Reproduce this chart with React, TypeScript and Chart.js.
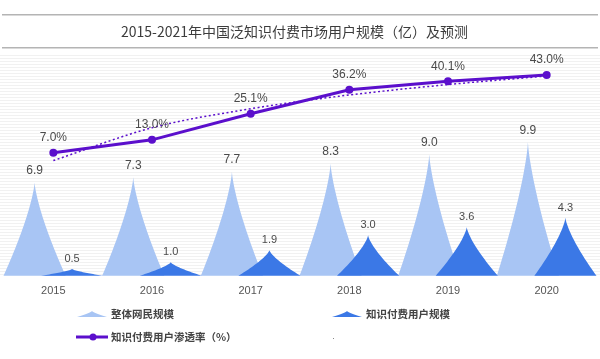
import React, { useEffect, useRef } from 'react';
import { Chart, registerables } from 'chart.js';

Chart.register(...registerables);

const years = ['2015', '2016', '2017', '2018', '2019', '2020'];
const netUsers = [6.9, 7.3, 7.7, 8.3, 9.0, 9.9];
const paidUsers = [0.5, 1.0, 1.9, 3.0, 3.6, 4.3];
const penetration = [7.0, 13.0, 25.1, 36.2, 40.1, 43.0];
const trend = [3.4, 18.6, 27.4, 33.8, 38.6, 42.6];

const titleText = '2015-2021年中国泛知识付费市场用户规模（亿）及预测';
const legendNames = ['整体网民规模', '知识付费用户规模', '知识付费用户渗透率（%）'];

const LIGHT = '#a8c5f4';
const DARK = '#3b78e6';
const PURPLE = '#5b0fcc';
const FONT = "'Liberation Sans', 'Noto Sans CJK SC', sans-serif";
const CJK = "'Noto Sans CJK SC', 'Liberation Sans', sans-serif";

function spike(ctx: CanvasRenderingContext2D, x: number, top: number, base: number, w: number, color: string) {
  const h = base - top;
  const steps = 24;
  const P = 1.35;
  ctx.beginPath();
  ctx.moveTo(x - w / 2, base);
  for (let i = 1; i <= steps; i++) {
    const t = i / steps;
    ctx.lineTo(x - (w / 2) * Math.pow(1 - t, P), base - h * t);
  }
  for (let i = steps - 1; i >= 0; i--) {
    const t = i / steps;
    ctx.lineTo(x + (w / 2) * Math.pow(1 - t, P), base - h * t);
  }
  ctx.closePath();
  ctx.fillStyle = color;
  ctx.fill();
}

const decorPlugin = {
  id: 'decor',
  beforeDraw(chart: any) {
    const ctx = chart.ctx as CanvasRenderingContext2D;
    const { chartArea } = chart;
    ctx.save();
    ctx.fillStyle = '#ffffff';
    ctx.fillRect(0, 0, chart.width, chart.height);
    ctx.fillStyle = '#f1f1f1';
    for (let y = chartArea.top - 5; y < chartArea.bottom; y += 3) {
      ctx.fillRect(0, y, chart.width, 1);
    }
    ctx.fillStyle = '#b4b4b4';
    ctx.fillRect(2, 14, chart.width - 4, 1.5);
    ctx.fillRect(2, 47, chart.width - 4, 1.5);
    ctx.fillStyle = '#3c3c3c';
    ctx.font = `14px ${CJK}`;
    ctx.textAlign = 'left';
    ctx.textBaseline = 'middle';
    ctx.fillText(titleText, 121, 32);
    ctx.restore();
  },
  beforeDatasetsDraw(chart: any) {
    const ctx = chart.ctx as CanvasRenderingContext2D;
    const xScale = chart.scales.x;
    const catW = xScale.width / years.length;
    const w = catW * 0.63;
    ctx.save();
    [0, 1].forEach((di) => {
      const meta = chart.getDatasetMeta(di);
      meta.data.forEach((el: any) => {
        spike(ctx, el.x, el.y, el.base, w, di === 0 ? LIGHT : DARK);
      });
    });
    ctx.restore();
  },
  afterDatasetsDraw(chart: any) {
    const ctx = chart.ctx as CanvasRenderingContext2D;
    ctx.save();
    ctx.textAlign = 'center';
    ctx.textBaseline = 'middle';
    ctx.fillStyle = '#4a4a4a';
    const m0 = chart.getDatasetMeta(0);
    ctx.font = `12px ${FONT}`;
    m0.data.forEach((el: any, i: number) => {
      ctx.fillText(netUsers[i].toFixed(1), el.x, el.y - 12);
    });
    const m1 = chart.getDatasetMeta(1);
    ctx.font = `11px ${FONT}`;
    m1.data.forEach((el: any, i: number) => {
      ctx.fillText(paidUsers[i].toFixed(1), el.x, el.y - 10);
    });
    const m2 = chart.getDatasetMeta(2);
    ctx.font = `12px ${FONT}`;
    m2.data.forEach((el: any, i: number) => {
      ctx.fillText(penetration[i].toFixed(1) + '%', el.x, el.y - 15);
    });
    ctx.restore();
  },
  afterDraw(chart: any) {
    const ctx = chart.ctx as CanvasRenderingContext2D;
    ctx.save();
    spike(ctx, 92, 311, 317, 30, LIGHT);
    spike(ctx, 347, 311, 317, 30, DARK);
    ctx.strokeStyle = PURPLE;
    ctx.lineWidth = 3;
    ctx.beginPath();
    ctx.moveTo(76, 337);
    ctx.lineTo(108, 337);
    ctx.stroke();
    ctx.fillStyle = PURPLE;
    ctx.beginPath();
    ctx.arc(93, 337, 3.5, 0, Math.PI * 2);
    ctx.fill();
    ctx.fillStyle = '#444444';
    ctx.font = `bold 10.5px ${CJK}`;
    ctx.textAlign = 'left';
    ctx.textBaseline = 'middle';
    ctx.fillText(legendNames[0], 111, 314);
    ctx.fillText(legendNames[1], 366, 314);
    ctx.fillText(legendNames[2], 111, 337);
    ctx.fillStyle = '#888888';
    ctx.fillRect(333, 338, 1, 1);
    ctx.restore();
  },
};

export default function App() {
  const ref = useRef<HTMLCanvasElement>(null);
  useEffect(() => {
    document.body.style.margin = '0';
    const canvas = ref.current!;
    const chart = new Chart(canvas, {
      type: 'bar',
      data: {
        labels: years,
        datasets: [
          {
            type: 'bar',
            label: legendNames[0],
            data: netUsers,
            backgroundColor: 'rgba(0,0,0,0)',
            yAxisID: 'y',
            categoryPercentage: 0.76,
            barPercentage: 0.2,
            order: 3,
          } as any,
          {
            type: 'bar',
            label: legendNames[1],
            data: paidUsers,
            backgroundColor: 'rgba(0,0,0,0)',
            yAxisID: 'y',
            categoryPercentage: 0.76,
            barPercentage: 0.2,
            order: 3,
          } as any,
          {
            type: 'line',
            label: legendNames[2],
            data: penetration,
            yAxisID: 'y1',
            borderColor: PURPLE,
            backgroundColor: PURPLE,
            borderWidth: 3,
            pointRadius: 4,
            pointBackgroundColor: PURPLE,
            pointBorderWidth: 0,
            tension: 0,
            order: 1,
          } as any,
          {
            type: 'line',
            label: 'trend',
            data: trend,
            yAxisID: 'y1',
            borderColor: PURPLE,
            borderWidth: 1.5,
            borderDash: [2, 2.5],
            pointRadius: 0,
            cubicInterpolationMode: 'monotone',
            order: 2,
          } as any,
        ],
      },
      options: {
        responsive: false,
        animation: false,
        layout: { padding: { top: 60, bottom: 52, left: 0, right: 0 } },
        plugins: {
          legend: { display: false },
          tooltip: { enabled: false },
          title: { display: false },
        },
        scales: {
          x: {
            grid: { display: false, drawTicks: false },
            border: { display: false },
            ticks: { color: '#555555', font: { size: 11, family: FONT }, padding: 9 },
          },
          y: { display: false, min: 0, max: 16 },
          y1: { display: false, min: -50, max: 50, position: 'right' },
        },
      },
      plugins: [decorPlugin],
    });
    return () => chart.destroy();
  }, []);
  return (
    <div style={{ width: 600, height: 359 }}>
      <canvas ref={ref} width={600} height={359} />
    </div>
  );
}
